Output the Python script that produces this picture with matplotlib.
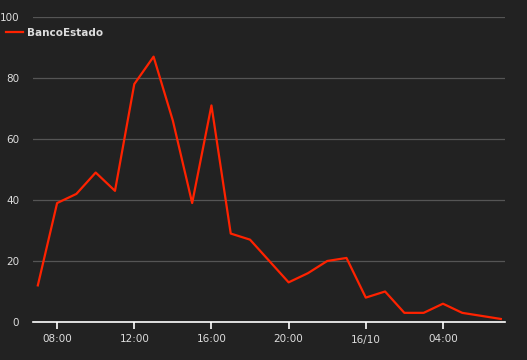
import numpy as np
import pandas as pd
import matplotlib
matplotlib.use("Agg")
import matplotlib.pyplot as plt
import matplotlib.dates as mdates

# datos (una muestra por hora)
horas = pd.date_range("2019-10-15 07:00", "2019-10-16 07:00", freq="h")
banco_estado = [12, 39, 42, 49, 43, 78, 87, 66, 39, 71, 29, 27, 20,
                13, 16, 20, 21, 8, 10, 3, 3, 6, 3, 2, 1]
serie = "BancoEstado"
y_ticks = [0, 20, 40, 60, 80, 100]

fondo = "#222222"
texto = "#dddddd"
rojo = "#ff2200"

fig = plt.figure(figsize=(5.27, 3.6), dpi=100, facecolor=fondo)
ax = fig.add_axes([33/527, 38/360, 472/527, 305/360])
ax.set_facecolor(fondo)

ax.plot(horas, banco_estado, color=rojo, lw=1.6, label=serie)

ax.set_ylim(0, 100)
ax.set_yticks(y_ticks)
ax.set_xlim(horas[0] - pd.Timedelta(minutes=15), horas[-1] + pd.Timedelta(minutes=13))
ax.grid(axis="y", color="#555555", lw=0.9)
ax.set_axisbelow(True)

# ticks cada 4 horas, la medianoche con la fecha
ax.xaxis.set_major_locator(mdates.HourLocator(byhour=[0, 4, 8, 12, 16, 20]))
def fmt(x, pos):
    d = mdates.num2date(x)
    if d.hour == 0:
        return d.strftime("%d/%m")
    return d.strftime("%H:%M")
ax.xaxis.set_major_formatter(plt.FuncFormatter(fmt))

for s in ["top", "right", "left"]:
    ax.spines[s].set_visible(False)
ax.spines["bottom"].set_color("white")
ax.spines["bottom"].set_linewidth(1.2)
ax.tick_params(axis="x", colors=texto, labelsize=7.5, length=5, width=1.2,
               color="white", pad=4)
ax.tick_params(axis="y", colors=texto, labelsize=7.5, length=0, pad=10)

leg = fig.legend(loc="upper left", bbox_to_anchor=(0.0, 0.94), frameon=False,
                 handlelength=1.6, handletextpad=0.4, borderaxespad=0.2,
                 prop={"weight": "bold", "size": 7.5})
for t in leg.get_texts():
    t.set_color(texto)

fig.savefig("out.png", dpi=100, facecolor=fondo)
